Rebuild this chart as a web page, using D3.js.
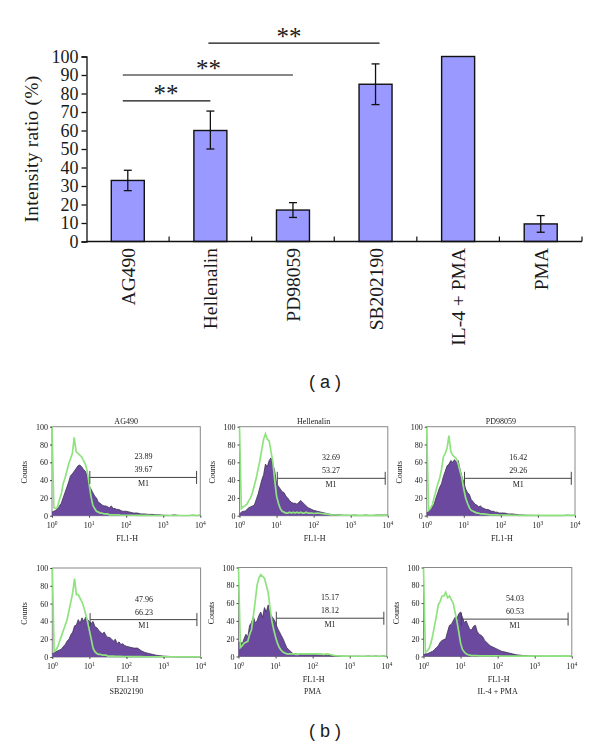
<!DOCTYPE html>
<html><head><meta charset="utf-8">
<script src="https://cdn.jsdelivr.net/npm/d3@7"></script>
<style>html,body{margin:0;padding:0;background:#fff}svg{display:block}text{font-family:"Liberation Serif",serif;fill:#1a1a1a}</style>
</head><body><svg id="c" width="600" height="747"></svg>
<script>
const categories = ["AG490","Hellenalin","PD98059","SB202190","IL-4 + PMA","PMA"];
const ratios = [33,60,17,85,100,9.5];
const errLow = [27.5,50,13,74,100,5];
const errHigh = [38.5,70.5,21,96,100,14];
const yTicksA = [0,10,20,30,40,50,60,70,80,90,100];
const sigFrom = [0,0,1];
const sigTo = [1,2,3];
const sigLevel = [76,90,107.2];
const sigStars = ["**","**","**"];

const logChannels = [0,.05,.1,.15,.2,.25,.3,.35,.4,.45,.5,.55,.6,.65,.7,.75,.8,.85,.9,.95,1,1.05,1.1,1.15,1.2,1.25,1.3,1.35,1.4,1.45,1.5,1.55,1.6,1.65,1.7,1.75,1.8,1.85,1.9,1.95,2,2.1,2.2,2.3,2.4,2.5,2.6,2.7,2.8,2.9,3,3.1,3.2,3.3,3.4,3.5,3.6,3.7,3.8,3.9,4];
const panelTitles = ["AG490","Hellenalin","PD98059","","",""];
const panelCaptions = ["","","","SB202190","PMA","IL-4 + PMA"];
const gatedA = ["23.89","32.69","16.42","47.96","15.17","54.03"];
const gatedB = ["39.67","53.27","29.26","66.23","18.12","60.53"];
const gateStart = [1.02,1.02,1.02,1.02,1.02,1.02];
const gateEnd = [3.9,3.93,3.9,3.9,3.92,3.9];
const gateLevel = [43,42,42,42,43,42];
const histTicks = [0,20,40,60,80,100];
const decades = [0,1,2,3,4];

const purple1 = [4,5,6,8,11,14,20,26,32,38,45,47,50,53,56,57,55,52,50,45,34,30,26,22,20,15,14,12,11,11,10,9,11,8,8,7,7,6,5,5,5,4,3,3,2,2,1.5,1.5,1,1,.5,.5,.3,1,.3,.2,.2,.2,.5,.2,.5];
const green1 = [100,9,8,10,18,24,36,42,50,58,64,70,88,72,70,68,66,62,58,50,36,22,12,8,5,4,3,3,2,2,2,1,1,1,1,1,1,.5,.5,.5,.5,.5,.5,.3,.3,.3,.3,.2,.2,.2,.2,.2,.2,.2,.2,.2,.2,.2,.8,.2,.8];
const purple2 = [2,4,5,5,7,9,10,11,12,18,24,32,40,46,58,55,62,65,58,50,36,33,30,27,26,22,20,17,15,14,14,13,15,17,15,13,11,9,8,7,6,5,4,3,2,1.2,1,1,.5,.5,.3,.8,.3,.2,.8,.2,.3,.8,.8,.8,.8];
const green2 = [100,8,10,11,13,17,20,26,34,42,52,62,74,86,92,86,84,72,60,40,22,14,8,5,4,3,3,4,3,4,3,4,3,4,3,3,4,3,3,3,2.5,3,2.5,2,1.5,1,.8,.6,.5,.5,.5,.3,.3,.3,.3,.3,.3,.3,.3,.3,.5];
const purple3 = [3,5,7,10,13,20,26,32,36,44,50,56,58,62,60,63,60,62,52,44,38,30,26,24,18,16,13,12,10,11,9,8,7,7,6,5,5,4,4,3,3,3,2,2,1.5,1,.8,.5,.4,.3,.3,.2,.2,.2,.2,.2,.2,.2,.5,.2,.5];
const green3 = [100,6,8,12,20,28,36,42,52,66,70,76,90,72,68,66,64,58,50,42,30,20,14,9,6,5,4,3,3,2,2,2,1.5,1.5,1,1,1,1,1,.8,.8,.6,.6,.5,.5,.4,.3,.3,.3,.3,.3,.3,.3,.3,.3,.3,.3,.3,.8,.3,.6];
const purple4 = [4,5,6,7,8,9,12,14,18,20,25,28,35,36,42,38,44,40,45,42,40,38,40,34,33,30,28,26,28,24,22,22,20,18,20,15,17,14,15,13,12,11,10,10,7,5,4,3,2,1.5,1,.8,.5,.5,.3,.3,.3,.3,.3,.3,.3];
const green4 = [100,6,8,12,18,24,30,36,42,52,62,72,88,70,70,66,62,56,48,40,30,20,10,6,4,3,3,2,2,2,1,1,1,1,.8,.8,.6,.6,.5,.5,.5,.5,.4,.4,.4,.3,.3,.3,.3,.3,.3,.3,.3,.3,.3,.3,.3,.3,.3,.3,.3];
const purple5 = [15,17,14,20,25,22,35,38,45,38,40,46,50,44,55,50,58,48,45,42,38,32,28,24,20,15,10,8,6,4,3,3,2.5,2.5,2,2,2,2,2,2,2,2,1.5,1.5,1.2,1,.8,.5,.4,.3,.3,.3,.3,.2,.2,.6,.2,.6,.2,.6,.2];
const green5 = [100,10,12,15,16,17,25,30,45,62,80,88,92,90,88,80,72,55,40,30,22,15,10,7,5,4,3,3,3,3,3,2.5,2.5,3,3,3,3,3,3,3,3,3,3,2.5,3,2,1,.8,.5,.5,.3,.3,.3,.3,.3,.3,.3,.3,.3,.3,.6];
const purple6 = [2,3,3,4,5,6,8,10,12,16,18,19,20,28,35,36,40,44,42,48,50,44,38,40,35,30,30,34,35,28,25,24,22,18,16,14,12,11,10,9,8,6,5,4,3,2,1.5,1,.8,.6,.5,.4,.4,.3,.3,.3,.5,.3,.5,.3,.5];
const green6 = [100,5,6,9,15,24,35,46,58,62,68,68,72,66,68,64,60,50,40,28,15,8,5,3,2,1.5,1,1,1,1,.8,.8,.8,.8,.8,.8,.6,.6,.6,.6,.6,.5,.5,.5,.5,.4,.4,.4,.4,.4,.4,.4,.4,.4,.6,.4,.6,.4,.6,.4,.8];

const svg = d3.select("#c");

// ---- panel (a)
const xA = d3.scaleBand().domain(categories).range([86.5,582]).paddingInner(0).paddingOuter(0);
const yA = d3.scaleLinear().domain([0,100]).range([241.5,56.5]);
const a = svg.append("g");
const barW = 33;
a.selectAll("rect.bar").data(categories).join("rect")
 .attr("x",d=>xA(d)+xA.bandwidth()/2-barW/2).attr("width",barW)
 .attr("y",(d,i)=>yA(ratios[i])).attr("height",(d,i)=>yA(0)-yA(ratios[i]))
 .attr("fill","#9999ff").attr("stroke","#111").attr("stroke-width",1.4);
categories.forEach((c,i)=>{
  if(errHigh[i]===errLow[i]) return;
  const cx=xA(c)+xA.bandwidth()/2;
  const g=a.append("g").attr("stroke","#111").attr("stroke-width",1.3);
  g.append("line").attr("x1",cx).attr("x2",cx).attr("y1",yA(errLow[i])).attr("y2",yA(errHigh[i]));
  [errLow[i],errHigh[i]].forEach(v=>g.append("line").attr("x1",cx-4).attr("x2",cx+4).attr("y1",yA(v)).attr("y2",yA(v)));
});
const yAxisA=a.append("g").attr("transform","translate(86.5,0)")
 .call(d3.axisLeft(yA).tickValues(yTicksA).tickSize(5).tickPadding(3).tickFormat(d3.format("d")));
yAxisA.selectAll("path,line").attr("stroke","#111").attr("stroke-width",1.3);
yAxisA.selectAll("text").attr("font-size",18).attr("font-family","Liberation Serif").attr("fill","#1a1a1a");
a.append("line").attr("x1",86.5).attr("x2",582).attr("y1",241.5).attr("y2",241.5).attr("stroke","#111").attr("stroke-width",1.5);
categories.forEach(c=>{
  const bx=xA(c)+xA.bandwidth();
  a.append("line").attr("x1",bx).attr("x2",bx).attr("y1",241.5).attr("y2",236.5).attr("stroke","#111").attr("stroke-width",1.2);
});
categories.forEach(c=>{
  a.append("text").attr("transform",`translate(${xA(c)+xA.bandwidth()/2+7},248) rotate(-90)`)
   .attr("text-anchor","end").attr("font-size",19.5).text(c);
});
a.append("text").attr("transform","translate(38,149) rotate(-90)").attr("text-anchor","middle")
 .attr("font-size",19.5).attr("letter-spacing",".2").text("Intensity ratio (%)");
const sigStartShift=[-5,-5,-2], sigEndShift=[0,0,4], sigStarX=[166,208.5,289];
sigLevel.forEach((lv,i)=>{
  const x1=xA(categories[sigFrom[i]])+xA.bandwidth()/2+sigStartShift[i];
  const x2=xA(categories[sigTo[i]])+xA.bandwidth()/2+sigEndShift[i];
  const yy=yA(lv);
  a.append("line").attr("x1",x1).attr("x2",x2).attr("y1",yy).attr("y2",yy).attr("stroke","#111").attr("stroke-width",1.2);
  a.append("text").attr("x",sigStarX[i]).attr("y",yy+1.5).attr("text-anchor","middle")
   .attr("font-size",25).text(sigStars[i]);
});
svg.append("text").attr("x",325).attr("y",388).attr("text-anchor","middle").attr("font-size",18)
 .style("font-family","Liberation Sans").text("( a )");
svg.append("text").attr("x",325).attr("y",737).attr("text-anchor","middle").attr("font-size",18)
 .style("font-family","Liberation Sans").text("( b )");

// ---- panel (b)
const purples=[purple1,purple2,purple3,purple4,purple5,purple6];
const greens=[green1,green2,green3,green4,green5,green6];
const boxL=[52,239.5,426.7,52.3,238.5,423.5];
const boxT=[426.7,426.7,426.7,568,567.5,567.5];
const boxW=148.3, boxH=89;
const blur=svg.append("defs").append("filter").attr("id","soft");
blur.append("feGaussianBlur").attr("stdDeviation",0.4);
purples.forEach((pv,k)=>{
  const x=d3.scaleLinear().domain([0,4]).range([boxL[k],boxL[k]+boxW]);
  const y=d3.scaleLinear().domain([0,100]).range([boxT[k]+boxH,boxT[k]]);
  const g=svg.append("g").attr("filter","url(#soft)");
  g.append("rect").attr("x",boxL[k]).attr("y",boxT[k]).attr("width",boxW).attr("height",boxH)
   .attr("fill","none").attr("stroke","#888").attr("stroke-width",1);
  const area=d3.area().x((d,i)=>x(logChannels[i])).y0(y(0)).y1(d=>y(d));
  const line=d3.line().x((d,i)=>x(logChannels[i])).y(d=>y(d));
  g.append("path").attr("d",area(pv)).attr("fill","#6b4a9e");
  g.append("path").attr("d",line(pv)).attr("fill","none").attr("stroke","#3b3350").attr("stroke-width",.8);
  g.append("path").attr("d",line(greens[k])).attr("fill","none").attr("stroke","#8fe37f").attr("stroke-width",1.7);
  const ax=g.append("g").attr("transform",`translate(${boxL[k]},0)`)
    .call(d3.axisLeft(y).tickValues(histTicks).tickSize(2).tickPadding(2));
  ax.select("path").remove();
  ax.selectAll("line").attr("stroke","#444");
  ax.selectAll("text").attr("font-size",8).attr("font-family","Liberation Serif").attr("fill","#222");
  const bx=g.append("g").attr("transform",`translate(0,${boxT[k]+boxH})`)
    .call(d3.axisBottom(x).tickValues(decades).tickSize(2).tickFormat(""));
  bx.select("path").remove();
  bx.selectAll("line").attr("stroke","#444");
  decades.forEach(d=>{
    const t=g.append("text").attr("x",x(d)).attr("y",boxT[k]+boxH+12).attr("text-anchor","middle").attr("font-size",8).attr("fill","#222");
    t.append("tspan").text("10");
    t.append("tspan").attr("dy",-3).attr("font-size",5.5).text(d);
  });
  g.append("text").attr("transform",`translate(${boxL[k]-25},${boxT[k]+boxH/2+1}) rotate(-90)`)
   .attr("text-anchor","middle").attr("font-size",8).attr("fill","#222").text("Counts");
  g.append("text").attr("x",x(2)+1).attr("y",boxT[k]+boxH+25).attr("text-anchor","middle").attr("font-size",8).attr("fill","#222").text("FL1-H");
  if(panelTitles[k]) g.append("text").attr("x",x(2)).attr("y",boxT[k]-3).attr("text-anchor","middle").attr("font-size",8).attr("fill","#222").text(panelTitles[k]);
  if(panelCaptions[k]) g.append("text").attr("x",x(2)).attr("y",boxT[k]+boxH+37).attr("text-anchor","middle").attr("font-size",8).attr("fill","#222").text(panelCaptions[k]);
  const gy=y(gateLevel[k]);
  const gx1=x(gateStart[k]), gx2=x(gateEnd[k]);
  g.append("line").attr("x1",gx1).attr("x2",gx2).attr("y1",gy).attr("y2",gy).attr("stroke","#444").attr("stroke-width",1);
  [gx1,gx2].forEach(p=>g.append("line").attr("x1",p).attr("x2",p).attr("y1",gy-6.5).attr("y2",gy+6.5).attr("stroke","#444").attr("stroke-width",1));
  const tx=x(2.47);
  [[gatedA[k],-18],[gatedB[k],-5],["M1",8.5]].forEach(([s,dy])=>{
    g.append("text").attr("x",tx).attr("y",gy+dy).attr("text-anchor","middle").attr("font-size",8).attr("fill","#222").text(s);
  });
});
</script></body></html>
